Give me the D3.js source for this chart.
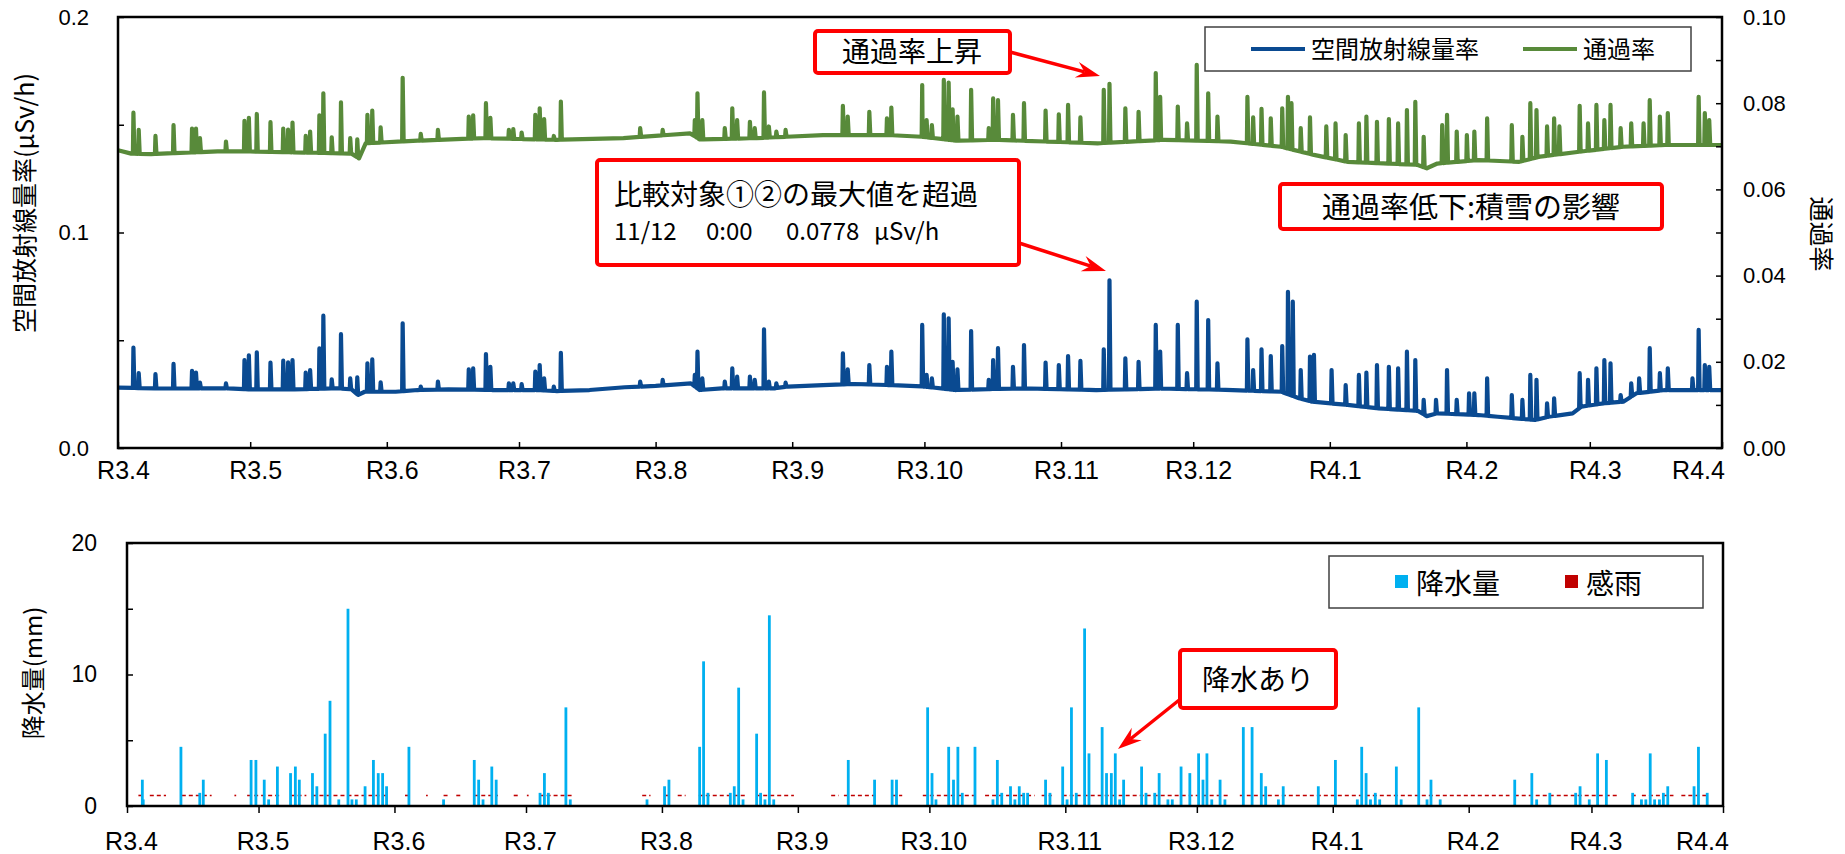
<!DOCTYPE html>
<html>
<head>
<meta charset="utf-8">
<script src="https://cdn.jsdelivr.net/npm/d3@7"></script>
<style>
  body { margin: 0; background: #fff; }
</style>
</head>
<body>
<div id="chart"></div>
<script>
// Time values are days since R3.4.1 0:00 (2021-04-01)
const monthLabels = ["R3.4", "R3.5", "R3.6", "R3.7", "R3.8", "R3.9", "R3.10", "R3.11", "R3.12", "R4.1", "R4.2", "R4.3", "R4.4"];
const doseTicks = [0, 0.1, 0.2];
const doseMinorTicks = [0.05, 0.15];
const rateTicks = [0, 0.02, 0.04, 0.06, 0.08, 0.10];
const rateMinorTicks = [0.01, 0.03, 0.05, 0.07, 0.09];
const rainTicks = [0, 10, 20];
const rainMinorTicks = [5, 15];

// 空間放射線量率 (μSv/h): slowly varying level, read at knots
const doseBase = [
  [0, 0.0280], [10, 0.0276], [25, 0.0277], [30, 0.0272], [40, 0.0272], [50, 0.0277], [53, 0.0272],
  [54.5, 0.0246], [56, 0.0261], [63, 0.0261], [68, 0.0269], [75, 0.0272], [85, 0.0269], [95, 0.0269],
  [99.6, 0.0264], [107, 0.0269], [115, 0.0282], [122, 0.0288], [130, 0.0300], [132, 0.0269], [137, 0.0277],
  [149, 0.0277], [152, 0.0285], [160, 0.0292], [167, 0.0297], [175, 0.0292], [183, 0.0285], [190, 0.0269],
  [199, 0.0274], [207, 0.0276], [222, 0.0269], [237, 0.0276], [253, 0.0269], [264, 0.0261], [268, 0.0231],
  [271, 0.0215], [279, 0.0200], [286, 0.0184], [295, 0.0172], [297, 0.0148], [299.4, 0.0161], [308.7, 0.0153],
  [313.1, 0.0145], [321.6, 0.0130], [324.6, 0.0145], [330.1, 0.0161], [332.1, 0.0192], [337.1, 0.0207],
  [341.6, 0.0215], [344.6, 0.0254], [351.1, 0.0269], [364, 0.0269]
];
// 空間放射線量率: peaks during rain
const doseSpikes = [
  [3.5, 0.0466], [4.7, 0.0347], [8.5, 0.0343], [12.6, 0.039], [16.8, 0.0358], [17.7, 0.035], [18.6, 0.0303],
  [24.5, 0.030], [28.7, 0.0408], [29.7, 0.043], [31.5, 0.0444], [34.6, 0.0396], [37.5, 0.0405], [38.6, 0.0398],
  [39.6, 0.0408], [42.6, 0.035], [43.6, 0.0362], [45.7, 0.0462], [46.6, 0.0614], [48.5, 0.0319], [50.6, 0.0528],
  [52.7, 0.0323], [54.3, 0.0328], [56.6, 0.0393], [57.7, 0.0411], [59.6, 0.0305], [64.6, 0.0579], [68.7, 0.0285],
  [72.6, 0.0308], [79.6, 0.0365], [80.6, 0.037], [83.5, 0.0436], [84.5, 0.0377], [88.7, 0.030], [89.7, 0.030],
  [91.6, 0.0296], [94.7, 0.0354], [95.7, 0.0385], [96.7, 0.0323], [98.9, 0.0285],
  [100.5, 0.0442], [118.5, 0.0308], [123.6, 0.0316], [130.9, 0.0339], [131.5, 0.0447], [132.6, 0.0323],
  [137.7, 0.0308], [139.4, 0.037], [140.5, 0.0331], [143.4, 0.0331], [144.5, 0.0316], [146.6, 0.0551],
  [147.7, 0.0308], [149.4, 0.030], [151.5, 0.0303], [164.5, 0.0439], [165.6, 0.0365], [170.5, 0.0385],
  [174.5, 0.0377], [175.5, 0.0447], [182.5, 0.0571], [183.5, 0.0339], [184.7, 0.0323], [187.4, 0.062],
  [188.5, 0.0602], [189.4, 0.040], [190.5, 0.0365], [193.6, 0.0543], [197.6, 0.0316], [198.6, 0.0408],
  [199.7, 0.0463], [203.1, 0.0377], [205.6, 0.0478], [210.5, 0.0396], [213.5, 0.0385], [215.6, 0.0427],
  [218.4, 0.0404], [223.7, 0.0458], [225.0, 0.0778], [228.6, 0.0416], [231.6, 0.040], [235.5, 0.0571],
  [236.5, 0.0447], [240.5, 0.0571], [242.6, 0.0347], [244.8, 0.0679], [247.4, 0.0594], [249.5, 0.0393],
  [256.3, 0.0504], [257.6, 0.0362], [259.5, 0.0458], [261.6, 0.0427], [264.2, 0.0473], [265.5, 0.0725],
  [266.6, 0.0679], [268.4, 0.0362], [270.5, 0.0424], [271.4, 0.0432], [275.4, 0.0362], [278.6, 0.0292],
  [281.6, 0.0339], [283.3, 0.035], [285.7, 0.0385], [288.4, 0.0377], [290.5, 0.037], [292.5, 0.0447],
  [294.4, 0.0408], [296.3, 0.0223], [299.1, 0.0223], [301.6, 0.0362], [303.8, 0.0223], [306.6, 0.0254],
  [307.8, 0.0254], [310.7, 0.0323], [316.3, 0.0246], [318.7, 0.0223], [320.5, 0.0339], [321.9, 0.0316],
  [324.3, 0.0207], [325.9, 0.023], [331.7, 0.0347], [333.6, 0.0316], [335.5, 0.037], [337.3, 0.0408],
  [338.7, 0.0393], [341.0, 0.0246], [343.4, 0.030], [345.2, 0.0323], [347.6, 0.0463], [349.9, 0.0347],
  [351.7, 0.037], [357.3, 0.0323], [358.7, 0.0548], [360.1, 0.0385], [361.1, 0.0377]
];

// 通過率: level at knots
const rateBase = [
  [0, 0.0691], [3, 0.0683], [7.5, 0.0682], [22.6, 0.0688], [30, 0.0688], [45, 0.0685], [53, 0.0683],
  [54.7, 0.0672], [56.2, 0.0707], [68, 0.0713], [83, 0.0719], [99.6, 0.0715], [114.7, 0.0719], [129.8, 0.0730],
  [132, 0.0716], [144.9, 0.0719], [160, 0.0726], [175, 0.0726], [182.6, 0.0722], [190.2, 0.0713],
  [199.5, 0.0715], [222.3, 0.0707], [237.4, 0.0715], [252.5, 0.0711], [263.9, 0.0699], [271.4, 0.0680],
  [279, 0.0664], [294.8, 0.0657], [297, 0.0649], [299.4, 0.0660], [308.7, 0.0668], [318, 0.0664],
  [322.7, 0.0676], [332.1, 0.0688], [341.6, 0.0699], [351.1, 0.0703], [364, 0.0703]
];
// 通過率: peaks
const rateSpikes = [
  [3.5, 0.0778], [4.7, 0.0738], [8.5, 0.0724], [12.6, 0.0749], [16.8, 0.0741], [17.7, 0.0741], [18.6, 0.0719],
  [24.5, 0.0711], [28.7, 0.0759], [29.7, 0.0766], [31.5, 0.0775], [34.6, 0.0756], [37.5, 0.0741], [38.6, 0.0739],
  [39.6, 0.0755], [42.6, 0.0724], [43.6, 0.0734], [45.7, 0.0772], [46.6, 0.0823], [48.5, 0.0721], [50.6, 0.0802],
  [52.7, 0.0719], [54.3, 0.0716], [56.6, 0.0773], [57.7, 0.0783], [59.6, 0.0744], [64.6, 0.0859], [68.7, 0.0729],
  [72.6, 0.0738], [79.6, 0.0769], [80.6, 0.0772], [83.5, 0.080], [84.5, 0.0766], [88.7, 0.0738], [89.7, 0.074],
  [91.6, 0.0732], [94.7, 0.0773], [95.7, 0.0788], [96.7, 0.0763], [98.9, 0.0724],
  [100.5, 0.0804], [118.5, 0.0742], [123.6, 0.0738], [130.9, 0.0761], [131.5, 0.0823], [132.6, 0.0761],
  [137.7, 0.0742], [139.4, 0.0788], [140.5, 0.0761], [143.4, 0.0757], [144.5, 0.0742], [146.6, 0.0825],
  [147.7, 0.0746], [149.4, 0.0734], [151.5, 0.0738], [164.5, 0.0794], [165.6, 0.0769], [170.5, 0.078],
  [174.5, 0.0765], [175.5, 0.079], [182.5, 0.0842], [183.5, 0.0761], [184.7, 0.0749], [187.4, 0.0854],
  [188.5, 0.0848], [189.4, 0.0786], [190.5, 0.0769], [193.6, 0.0831], [197.6, 0.0742], [198.6, 0.0811],
  [199.7, 0.0807], [203.1, 0.0773], [205.6, 0.080], [210.5, 0.0783], [213.5, 0.0774], [215.6, 0.0796],
  [218.4, 0.0767], [223.7, 0.0831], [225.0, 0.0845], [228.6, 0.0788], [231.6, 0.078], [235.5, 0.087],
  [236.5, 0.0815], [240.5, 0.0792], [242.6, 0.0753], [244.8, 0.0889], [247.4, 0.0823], [249.5, 0.0769],
  [256.3, 0.0815], [257.6, 0.0767], [259.5, 0.0787], [261.6, 0.0765], [264.2, 0.0788], [265.5, 0.0815],
  [266.3, 0.080], [268.4, 0.0742], [270.5, 0.0767], [274.2, 0.0746], [276.3, 0.0753], [278.6, 0.0726],
  [281.6, 0.0753], [283.3, 0.0769], [285.7, 0.0757], [288.4, 0.0763], [290.5, 0.0753], [292.5, 0.0784],
  [294.4, 0.0803], [296.3, 0.0722], [300.5, 0.0749], [301.6, 0.0773], [303.8, 0.0734], [306.1, 0.0726],
  [307.8, 0.0734], [310.7, 0.0765], [316.3, 0.0749], [318.7, 0.0722], [320.5, 0.080], [321.9, 0.0784],
  [324.3, 0.0746], [325.9, 0.0765], [327.1, 0.0746], [331.7, 0.0794], [333.6, 0.0753], [335.5, 0.0796],
  [337.3, 0.0761], [338.7, 0.0796], [341.0, 0.0742], [343.4, 0.0753], [346.2, 0.0753], [347.6, 0.0807],
  [349.9, 0.0769], [351.7, 0.0777], [358.7, 0.0815], [360.1, 0.0777], [361.1, 0.0761]
];

// 降水量 (mm)
const rain = [
  [3.5, 2.0], [3.7, 0.5], [12.3, 4.5], [16.6, 1.0], [17.4, 2.0], [28.3, 3.5], [29.4, 3.5], [31.3, 2.0],
  [32.3, 0.5], [34.3, 3.0], [37.3, 2.5], [38.4, 3.0], [39.3, 2.0], [42.3, 2.5], [43.3, 1.5], [45.2, 5.5],
  [46.3, 8.0], [48.3, 0.5], [50.4, 15.0], [51.3, 0.5], [52.3, 0.5], [54.3, 1.5], [56.2, 3.5], [57.3, 2.5],
  [58.3, 2.5], [59.2, 1.5], [64.3, 4.5], [72.2, 0.5], [79.2, 3.5], [80.2, 2.0], [81.2, 0.5], [83.2, 3.0],
  [84.2, 2.0], [94.2, 1.0], [95.2, 2.5], [96.1, 1.0], [100.1, 7.5], [101.1, 0.5],
  [118.6, 0.5], [122.6, 1.5], [123.6, 2.0], [130.6, 4.5], [131.5, 11.0], [132.5, 1.0], [137.6, 1.0],
  [138.5, 1.5], [139.5, 9.0], [140.5, 0.5], [143.6, 5.5], [144.5, 1.0], [145.5, 0.5], [146.5, 14.5],
  [147.5, 0.5], [164.5, 3.5], [170.5, 2.0], [174.5, 2.0], [175.5, 2.0],
  [182.6, 7.5], [183.6, 2.5], [184.5, 0.5], [187.4, 4.5], [188.5, 2.0], [189.5, 4.5], [190.5, 1.0],
  [193.4, 4.5], [197.5, 0.5], [198.5, 3.5], [199.5, 1.0], [201.5, 1.5], [202.5, 0.5], [203.5, 1.5],
  [204.5, 1.0], [205.4, 1.0], [209.5, 2.0], [210.5, 1.0], [213.4, 3.0], [214.4, 0.5], [215.4, 7.5],
  [216.5, 1.0], [218.4, 13.5], [219.4, 4.0], [222.4, 6.0], [223.4, 2.5], [224.5, 2.5], [225.4, 4.0],
  [226.4, 0.5], [227.3, 2.0], [231.4, 3.0], [232.4, 1.0], [234.4, 1.0], [235.4, 2.5], [237.4, 0.5],
  [238.4, 0.5], [240.4, 3.0], [242.4, 2.5], [244.4, 4.0], [245.4, 2.0], [246.3, 4.0], [247.4, 0.5],
  [249.3, 2.0], [250.4, 0.5],
  [254.6, 6.0], [256.6, 6.0], [258.7, 2.5], [259.7, 1.5], [262.6, 0.5], [263.7, 1.5], [271.7, 1.5],
  [275.6, 3.5], [280.6, 0.5], [281.6, 4.5], [282.6, 2.5], [283.6, 0.5], [284.7, 1.0], [285.7, 0.5],
  [289.5, 3.0], [290.6, 0.5], [294.6, 7.5], [296.5, 0.5], [297.4, 2.0], [299.5, 0.5], [316.5, 2.0],
  [320.4, 2.5], [321.5, 0.5], [324.5, 1.0], [330.4, 1.0], [331.4, 1.5], [333.5, 0.5], [335.4, 4.0],
  [337.4, 3.5], [343.4, 1.0], [345.4, 0.5], [346.4, 0.5], [347.4, 4.0], [348.4, 0.5], [349.5, 0.5],
  [350.4, 1.0], [351.4, 1.5], [357.4, 1.5], [358.4, 4.5], [360.4, 1.0]
];

// 感雨: periods with rain sensed [start, end], plotted at a fixed level
const senseLevel = 0.8;
const sensePeriods = [
  [2.6, 3.9], [5.2, 8.9], [12.5, 19.3], [24.5, 24.9], [27.4, 35.0], [37.3, 40.9], [42.3, 59.8], [63.4, 64.8],
  [68.2, 68.6], [72.2, 73.8], [75.1, 76.5], [79.2, 84.6], [88.2, 89.6], [91.2, 91.6], [94.1, 101.7],
  [117.5, 119.4], [122.8, 124.3], [125.6, 127.4], [130.4, 141.4], [143.5, 152.1], [160.6, 162.3],
  [163.5, 171.1], [174.5, 176.8], [181.5, 194.0], [195.7, 207.0], [208.6, 210.9], [213.4, 251.1],
  [253.8, 315.3], [316.5, 340.1], [343.2, 344.1], [345.5, 352.7], [354.5, 360.8]
];

const W = 1845, H = 854;
const blue = "#0A4A91", green = "#588A3A", sky = "#00B0F0", dark = "#C00000", red = "#FF0000";
const numFont = "'Liberation Sans', Arial, sans-serif";
const jpFont = "'Noto Sans CJK JP', sans-serif";

const svg = d3.select("#chart")
  .append("svg")
  .attr("width", W)
  .attr("height", H);

// time scales
const dayMs = 864e5;
const t0 = Date.UTC(2021, 3, 1);
const tEnd = Date.UTC(2022, 2, 31);
const toDate = t => new Date(t0 + t * dayMs);
const monthTicks = d3.utcMonth.range(new Date(t0), new Date(tEnd)).concat([new Date(tEnd)]);

const upper = { left: 118, right: 1722, top: 17, bottom: 448 };
const lower = { left: 127, right: 1723, top: 543, bottom: 806 };

const xTop = d3.scaleUtc().domain([new Date(t0), new Date(tEnd)]).range([upper.left, upper.right]);
const xBot = d3.scaleUtc().domain([new Date(t0), new Date(tEnd)]).range([lower.left, lower.right]);
const yDose = d3.scaleLinear().domain([0, 0.2]).range([upper.bottom, upper.top]);
const yRate = d3.scaleLinear().domain([0, 0.1]).range([upper.bottom, upper.top]);
const yRain = d3.scaleLinear().domain([0, 20]).range([lower.bottom, lower.top]);

// level knots plus narrow peaks, feet placed on the level line
function buildSeries(base, spikes) {
  const level = d3.scaleLinear().domain(base.map(d => d[0])).range(base.map(d => d[1]));
  const pts = base.map(d => [d[0], d[1]]);
  spikes.forEach(([t, v]) => {
    pts.push([t - 0.12, level(t - 0.12)], [t, v], [t + 0.22, level(t + 0.22)]);
  });
  return pts.sort((a, b) => a[0] - b[0]);
}

function styleAxis(g, size) {
  g.select(".domain").remove();
  g.selectAll(".tick line").attr("stroke", "#000").attr("stroke-width", 1.5);
  g.selectAll("text").attr("font-family", numFont).attr("font-size", size).attr("fill", "#000");
}

// ---------- upper chart ----------
const lineDose = d3.line().x(d => xTop(toDate(d[0]))).y(d => yDose(d[1]));
const lineRate = d3.line().x(d => xTop(toDate(d[0]))).y(d => yRate(d[1]));

svg.append("path")
  .attr("d", lineRate(buildSeries(rateBase, rateSpikes)))
  .attr("fill", "none")
  .attr("stroke", green)
  .attr("stroke-width", 4.2)
  .attr("stroke-linejoin", "round");

svg.append("path")
  .attr("d", lineDose(buildSeries(doseBase, doseSpikes)))
  .attr("fill", "none")
  .attr("stroke", blue)
  .attr("stroke-width", 4.2)
  .attr("stroke-linejoin", "round");

svg.append("g")
  .attr("transform", `translate(0,${upper.bottom})`)
  .call(d3.axisBottom(xTop).tickValues(monthTicks).tickFormat((d, i) => monthLabels[i])
    .tickSize(-6).tickSizeOuter(0).tickPadding(13))
  .call(g => styleAxis(g, 25))
  .call(g => g.selectAll("text").attr("dx", (d, i) => i === monthLabels.length - 1 ? -24 : 5));

svg.append("g")
  .attr("transform", `translate(${upper.left},0)`)
  .call(d3.axisLeft(yDose).tickValues(doseTicks).tickFormat(d3.format(".1f"))
    .tickSize(-6).tickSizeOuter(0).tickPadding(29))
  .call(g => styleAxis(g, 22));
svg.append("g")
  .attr("transform", `translate(${upper.left},0)`)
  .call(d3.axisLeft(yDose).tickValues(doseMinorTicks).tickFormat("").tickSize(-6).tickSizeOuter(0))
  .call(g => styleAxis(g, 22));

svg.append("g")
  .attr("transform", `translate(${upper.right},0)`)
  .call(d3.axisRight(yRate).tickValues(rateTicks).tickFormat(d3.format(".2f"))
    .tickSize(-6).tickSizeOuter(0).tickPadding(21))
  .call(g => styleAxis(g, 22));
svg.append("g")
  .attr("transform", `translate(${upper.right},0)`)
  .call(d3.axisRight(yRate).tickValues(rateMinorTicks).tickFormat("").tickSize(-6).tickSizeOuter(0))
  .call(g => styleAxis(g, 22));

svg.append("rect")
  .attr("x", upper.left).attr("y", upper.top)
  .attr("width", upper.right - upper.left).attr("height", upper.bottom - upper.top)
  .attr("fill", "none").attr("stroke", "#000").attr("stroke-width", 2.5);

// axis titles
svg.append("text")
  .attr("transform", "translate(34,203) rotate(-90)")
  .attr("text-anchor", "middle")
  .attr("font-family", jpFont).attr("font-size", 25)
  .text("空間放射線量率(μSv/h)");
svg.append("text")
  .attr("transform", "translate(1812,234) rotate(90)")
  .attr("text-anchor", "middle")
  .attr("font-family", jpFont).attr("font-size", 25)
  .text("通過率");

// legend (upper)
svg.append("rect")
  .attr("x", 1205).attr("y", 27).attr("width", 486).attr("height", 44)
  .attr("fill", "#fff").attr("stroke", "#404040").attr("stroke-width", 1.5);
[[1251, blue, "空間放射線量率"], [1523, green, "通過率"]].forEach(([lx, c, label]) => {
  svg.append("line")
    .attr("x1", lx).attr("x2", lx + 54).attr("y1", 49).attr("y2", 49)
    .attr("stroke", c).attr("stroke-width", 4);
  svg.append("text")
    .attr("x", lx + 60).attr("y", 58)
    .attr("font-family", jpFont).attr("font-size", 24)
    .text(label);
});

// ---------- lower chart ----------
svg.append("g")
  .selectAll("line")
  .data(sensePeriods)
  .join("line")
  .attr("x1", d => xBot(toDate(d[0])))
  .attr("x2", d => xBot(toDate(d[1])))
  .attr("y1", yRain(senseLevel))
  .attr("y2", yRain(senseLevel))
  .attr("stroke", dark)
  .attr("stroke-width", 1.6)
  .attr("stroke-dasharray", "4,3");

svg.append("g")
  .selectAll("rect")
  .data(rain)
  .join("rect")
  .attr("x", d => xBot(toDate(d[0])) - 1.4)
  .attr("width", 2.8)
  .attr("y", d => yRain(d[1]))
  .attr("height", d => yRain(0) - yRain(d[1]))
  .attr("fill", sky);

svg.append("g")
  .attr("transform", `translate(0,${lower.bottom})`)
  .call(d3.axisBottom(xBot).tickValues(monthTicks).tickFormat((d, i) => monthLabels[i])
    .tickSize(7).tickSizeOuter(0).tickPadding(19))
  .call(g => styleAxis(g, 25))
  .call(g => g.selectAll("text").attr("dx", (d, i) => i === monthLabels.length - 1 ? -21 : 4));

svg.append("g")
  .attr("transform", `translate(${lower.left},0)`)
  .call(d3.axisLeft(yRain).tickValues(rainTicks).tickFormat(d3.format("d"))
    .tickSize(-6).tickSizeOuter(0).tickPadding(30))
  .call(g => styleAxis(g, 23));
svg.append("g")
  .attr("transform", `translate(${lower.left},0)`)
  .call(d3.axisLeft(yRain).tickValues(rainMinorTicks).tickFormat("").tickSize(-6).tickSizeOuter(0))
  .call(g => styleAxis(g, 23));

svg.append("rect")
  .attr("x", lower.left).attr("y", lower.top)
  .attr("width", lower.right - lower.left).attr("height", lower.bottom - lower.top)
  .attr("fill", "none").attr("stroke", "#000").attr("stroke-width", 2.5);

svg.append("text")
  .attr("transform", "translate(42,673) rotate(-90)")
  .attr("text-anchor", "middle")
  .attr("font-family", jpFont).attr("font-size", 24)
  .text("降水量(mm)");

// legend (lower)
svg.append("rect")
  .attr("x", 1329).attr("y", 556).attr("width", 374).attr("height", 52)
  .attr("fill", "#fff").attr("stroke", "#404040").attr("stroke-width", 1.5);
[[1395, sky, "降水量"], [1565, dark, "感雨"]].forEach(([lx, c, label]) => {
  svg.append("rect")
    .attr("x", lx).attr("y", 575).attr("width", 13).attr("height", 13)
    .attr("fill", c);
  svg.append("text")
    .attr("x", lx + 21).attr("y", 594)
    .attr("font-family", jpFont).attr("font-size", 28)
    .text(label);
});

// ---------- annotations ----------
function callout(x, y, w, h) {
  svg.append("rect")
    .attr("x", x).attr("y", y).attr("width", w).attr("height", h)
    .attr("rx", 3)
    .attr("fill", "#fff").attr("stroke", red).attr("stroke-width", 4);
}
function arrow(x1, y1, x2, y2) {
  const a = Math.atan2(y2 - y1, x2 - x1);
  const len = 24, half = 8, notch = 16;
  const p = (d, o) => [x2 - d * Math.cos(a) - o * Math.sin(a), y2 - d * Math.sin(a) + o * Math.cos(a)];
  svg.append("line")
    .attr("x1", x1).attr("y1", y1)
    .attr("x2", p(notch, 0)[0]).attr("y2", p(notch, 0)[1])
    .attr("stroke", red).attr("stroke-width", 3.5);
  svg.append("path")
    .attr("d", "M" + [[x2, y2], p(len, half), p(notch, 0), p(len, -half)].join("L") + "Z")
    .attr("fill", red);
}

arrow(1010, 52, 1100, 76);
callout(815, 31, 195, 42);
svg.append("text")
  .attr("x", 912).attr("y", 62).attr("text-anchor", "middle")
  .attr("font-family", jpFont).attr("font-size", 28)
  .text("通過率上昇");

arrow(1019, 243, 1106, 271);
callout(597, 160, 422, 105);
svg.append("text")
  .attr("x", 614).attr("y", 205)
  .attr("font-family", jpFont).attr("font-size", 28)
  .text("比較対象①②の最大値を超過");
const line2 = svg.append("text")
  .attr("y", 240)
  .attr("font-family", jpFont).attr("font-size", 24);
[[614, "11/12"], [706, "0:00"], [786, "0.0778"], [874, "μSv/h"]].forEach(([tx, s]) => {
  line2.append("tspan").attr("x", tx).text(s);
});

callout(1280, 184, 382, 45);
svg.append("text")
  .attr("x", 1471).attr("y", 218).attr("text-anchor", "middle")
  .attr("font-family", jpFont).attr("font-size", 29)
  .text("通過率低下:積雪の影響");

arrow(1183, 697, 1118, 749);
callout(1180, 650, 156, 58);
svg.append("text")
  .attr("x", 1258).attr("y", 690).attr("text-anchor", "middle")
  .attr("font-family", jpFont).attr("font-size", 28)
  .text("降水あり");
</script>
</body>
</html>
